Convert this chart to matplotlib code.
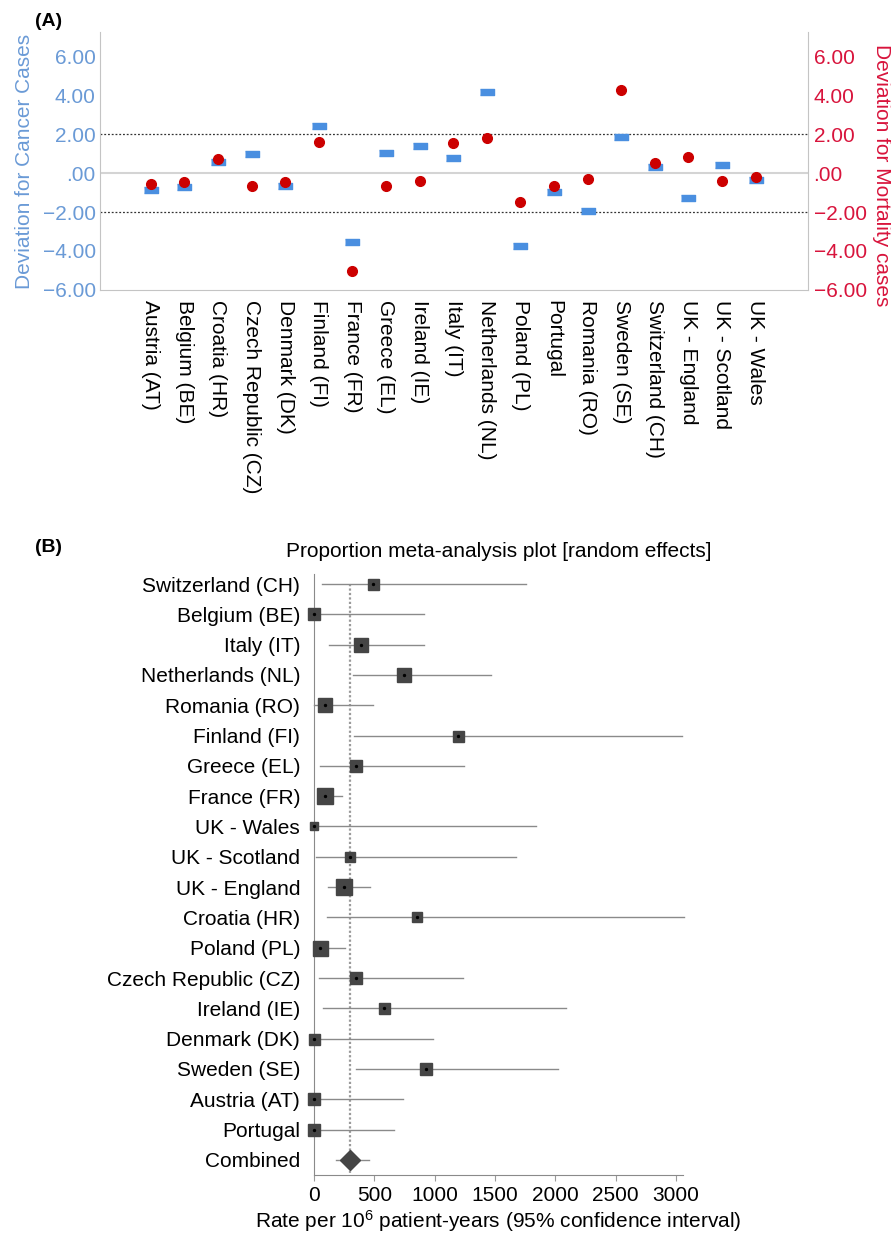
import matplotlib
matplotlib.use("Agg")
import matplotlib.pyplot as plt
from matplotlib.ticker import FuncFormatter

plt.rcParams['font.family'] = ['Liberation Sans', 'DejaVu Sans']
plt.rcParams['mathtext.fontset'] = 'custom'
plt.rcParams['mathtext.rm'] = 'Liberation Sans'
plt.rcParams['mathtext.default'] = 'regular'

# ---- panel A data: standardised deviations per country
countries_a = ["Austria (AT)", "Belgium (BE)", "Croatia (HR)", "Czech Republic (CZ)",
               "Denmark (DK)", "Finland (FI)", "France (FR)", "Greece (EL)",
               "Ireland (IE)", "Italy (IT)", "Netherlands (NL)", "Poland (PL)",
               "Portugal", "Romania (RO)", "Sweden (SE)", "Switzerland (CH)",
               "UK - England", "UK - Scotland", "UK - Wales"]
cancer_dev = [-0.86, -0.69, 0.60, 0.99, -0.64, 2.44, -3.54, 1.03, 1.42, 0.80,
              4.17, -3.76, -0.95, -1.94, 1.89, 0.31, -1.26, 0.44, -0.33]
mortality_dev = [-0.55, -0.43, 0.75, -0.65, -0.43, 1.63, -5.02, -0.65, -0.40, 1.55,
                 1.80, -1.50, -0.64, -0.28, 4.28, 0.55, 0.82, -0.38, -0.21]
a_ticks = [-6, -4, -2, 0, 2, 4, 6]

# ---- panel B data: rate per 10^6 patient-years with 95% CI
countries_b = ["Switzerland (CH)", "Belgium (BE)", "Italy (IT)", "Netherlands (NL)",
               "Romania (RO)", "Finland (FI)", "Greece (EL)", "France (FR)",
               "UK - Wales", "UK - Scotland", "UK - England", "Croatia (HR)",
               "Poland (PL)", "Czech Republic (CZ)", "Ireland (IE)", "Denmark (DK)",
               "Sweden (SE)", "Austria (AT)", "Portugal"]
rate = [489, 2, 392, 748, 91, 1193, 348, 94, 3, 301, 246, 851, 50, 345, 580, 3,
        931, 3, 3]
ci_low = [64, 0, 127, 326, 0, 329, 47, 31, 0, 14, 119, 105, 0, 44, 72, 0, 345, 0, 0]
ci_high = [1756, 909, 909, 1469, 491, 3051, 1243, 235, 1837, 1671, 467, 3066, 257,
           1234, 2088, 989, 2022, 737, 663]
weight = [11, 11.5, 14.3, 14, 14, 11, 12.3, 16, 8.7, 10.7, 15.7, 10, 15, 12.3, 11,
          11, 12.7, 11.7, 11.7]
combined = 302
combined_low = 182
combined_high = 456
b_ticks = [0, 500, 1000, 1500, 2000, 2500, 3000]

W, H = 891, 1234
fig = plt.figure(figsize=(W / 100, H / 100), dpi=100)

blue_lbl = "#6a9ad6"
red_lbl = "#d8143c"
spine_c = "#c4c4c4"


def fmt_dev(v, pos):
    if abs(v) < 1e-9:
        return ".00"
    return f"{v:.2f}".replace("-", "\u2212")


# ================= panel A
ax = fig.add_axes([100 / W, 1 - 290 / H, 708 / W, 258 / H])
ax2 = ax.twinx()
x = list(range(len(countries_a)))
ylim = (-6.02, 7.28)

ax.axhline(0, color="#d4d4d4", lw=1.5, zorder=1)
ax.axhline(2, color="#333333", lw=0.9, ls=(0, (1.5, 1.5)), zorder=1)
ax.axhline(-2, color="#333333", lw=0.9, ls=(0, (1.5, 1.5)), zorder=1)

rect = [(-1, -0.43), (1, -0.43), (1, 0.43), (-1, 0.43)]
ax.plot(x, cancer_dev, ls="none", marker=rect, markersize=10,
        color="#4a8fe0", zorder=3)
ax2.plot(x, mortality_dev, ls="none", marker="o", markersize=7,
         color="#cc0000", zorder=3)

for a in (ax, ax2):
    a.set_ylim(*ylim)
    a.set_xlim(-1.51, 19.56)
    a.set_yticks(a_ticks)
    a.yaxis.set_major_formatter(FuncFormatter(fmt_dev))
    for s in a.spines.values():
        s.set_color(spine_c)
    a.spines["top"].set_visible(False)

ax.spines["right"].set_visible(False)
ax2.spines["left"].set_visible(False)
ax2.spines["bottom"].set_visible(False)

ax.set_xticks(x)
ax.set_xticklabels(countries_a, rotation=-90, fontsize=15)
ax.tick_params(axis="x", length=0, pad=7)
ax.tick_params(axis="y", length=0, pad=3, labelsize=15, labelcolor=blue_lbl)
ax2.tick_params(axis="y", length=0, pad=4, labelsize=15, labelcolor=red_lbl)
ax.set_ylabel("Deviation for Cancer Cases", fontsize=15, color=blue_lbl, labelpad=6)
fig.text(882 / W, 1 - 175 / H, "Deviation for Mortality cases", fontsize=15,
         color=red_lbl, rotation=-90, ha="center", va="center")

fig.text(35 / W, 1 - 22 / H, "(A)", fontsize=14, fontweight="bold", va="center")

# ================= panel B
bx = fig.add_axes([314 / W, 1 - 1175 / H, 369 / W, 601 / H])
rows = list(range(len(countries_b)))
comb_row = len(countries_b)

bx.plot([combined, combined], [0, comb_row + 0.5], color="#9a9a9a", lw=1.6,
        ls=(0, (1, 1)), zorder=1)
for i in rows:
    bx.plot([ci_low[i], ci_high[i]], [i, i], color="#8a8a8a", lw=1.0, zorder=2,
            clip_on=False)
    bx.plot(rate[i], i, marker="s", markersize=weight[i] * 0.72,
            color="#454545", ls="none", zorder=3, clip_on=False)
    bx.plot(rate[i], i, marker="o", markersize=1.4, color="black", ls="none",
            zorder=4, clip_on=False)

bx.plot([combined_low, combined_high], [comb_row, comb_row], color="#8a8a8a",
        lw=1.0, zorder=2)
bx.plot(combined, comb_row, marker="D", markersize=10.5, color="#454545",
        ls="none", zorder=3)

bx.set_xlim(0, 3058)
bx.set_ylim(comb_row + 0.5, -0.33)
bx.set_yticks(rows + [comb_row])
bx.set_yticklabels(countries_b + ["Combined"], fontsize=15)
bx.set_xticks(b_ticks)
bx.tick_params(axis="y", length=0, pad=10)
bx.tick_params(axis="x", direction="out", length=4, color="#9a9a9a", labelsize=15,
               pad=4)
bx.spines["top"].set_visible(False)
bx.spines["right"].set_visible(False)
bx.spines["left"].set_color("#8a8a8a")
bx.spines["bottom"].set_color("#8a8a8a")
bx.set_title("Proportion meta-analysis plot [random effects]", fontsize=15, pad=12)
bx.set_xlabel("Rate per 10$^{6}$ patient-years (95% confidence interval)",
              fontsize=15, labelpad=2)

fig.text(35 / W, 1 - 547 / H, "(B)", fontsize=14, fontweight="bold", va="center")

fig.savefig("out.png", dpi=100)
